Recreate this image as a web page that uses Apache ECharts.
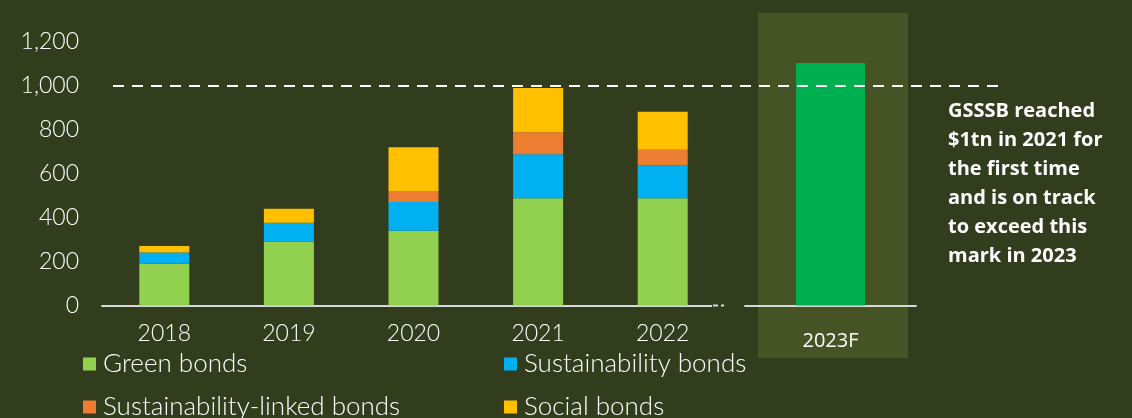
<!DOCTYPE html>
<html><head><meta charset="utf-8">
<script src="https://cdn.jsdelivr.net/npm/echarts@6/dist/echarts.min.js"></script>
<style>html,body{margin:0;padding:0;background:#323d1d;}#c{width:1132px;height:418px;}</style>
</head><body><div id="c"></div>
<script>
const categories = ['2018', '2019', '2020', '2021', '2022'];
const forecastCategories = ['2023F'];
const greenBonds = [190, 291, 340, 488, 488];
const sustainabilityBonds = [51, 86, 131, 201, 151];
const sustainabilityLinkedBonds = [0, 0, 50, 100, 70];
const socialBonds = [30, 64, 200, 201, 173];
const forecastTotal = [1104];
const yTicks = [0, 200, 400, 600, 800, 1000, 1200];
const thresholdValue = 1000;
const noteLines = ['GSSSB reached', '$1tn in 2021 for', 'the first time', 'and is on track', 'to exceed this', 'mark in 2023'];

const FONT = 'Lato';
const chart = echarts.init(document.getElementById('c'), null, {renderer: 'canvas'});
const axisCommon = {min: 0, max: 1200, interval: 200};
const legendText = {color: '#ffffff', fontFamily: FONT, fontSize: 26, fontWeight: 300, lineHeight: 24, padding: [0, 0, 0, 2]};
function legendItem(name, left, top) {
  return {left: left, top: top, padding: 0, orient: 'horizontal', itemWidth: 13, itemHeight: 13, icon: 'rect',
          data: [name], selectedMode: false, textStyle: legendText};
}
const option = {
  backgroundColor: '#323d1d',
  animation: false,
  grid: [
    {left: 102, right: 1132 - 725, top: 42, bottom: 112.5},
    {left: 745, right: 1132 - 916, top: 42, bottom: 112.5}
  ],
  xAxis: [
    {type: 'category', gridIndex: 0, data: categories,
     axisLine: {show: true, lineStyle: {color: '#d9d9d9', width: 2}},
     axisTick: {show: false},
     axisLabel: {color: '#ffffff', fontFamily: FONT, fontSize: 23, fontWeight: 300, margin: 17}},
    {type: 'category', gridIndex: 1, data: forecastCategories,
     axisLine: {show: true, lineStyle: {color: '#d9d9d9', width: 2}},
     axisTick: {show: false},
     axisLabel: {color: '#ffffff', fontFamily: 'Open Sans', fontSize: 20, margin: 26}}
  ],
  yAxis: [
    Object.assign({type: 'value', gridIndex: 0,
     axisLine: {show: false}, axisTick: {show: false}, splitLine: {show: false},
     axisLabel: {color: '#ffffff', fontFamily: FONT, fontSize: 23, fontWeight: 300, margin: 23,
       formatter: v => yTicks.includes(v) ? v.toLocaleString('en-US') : ''}}, axisCommon),
    Object.assign({type: 'value', gridIndex: 1, show: false, splitLine: {show: false}}, axisCommon)
  ],
  legend: [
    legendItem('Green bonds', 83, 351),
    legendItem('Sustainability bonds', 504, 351),
    legendItem('Sustainability-linked bonds', 83, 394),
    legendItem('Social bonds', 504, 394)
  ],
  series: [
    {name: 'Green bonds', type: 'bar', stack: 'a', xAxisIndex: 0, yAxisIndex: 0, data: greenBonds, barWidth: 50,
     itemStyle: {color: '#92d050'}},
    {name: 'Sustainability bonds', type: 'bar', stack: 'a', xAxisIndex: 0, yAxisIndex: 0, data: sustainabilityBonds, barWidth: 50,
     itemStyle: {color: '#00b0f0'}},
    {name: 'Sustainability-linked bonds', type: 'bar', stack: 'a', xAxisIndex: 0, yAxisIndex: 0, data: sustainabilityLinkedBonds, barWidth: 50,
     itemStyle: {color: '#ed7d31'}},
    {name: 'Social bonds', type: 'bar', stack: 'a', xAxisIndex: 0, yAxisIndex: 0, data: socialBonds, barWidth: 50,
     itemStyle: {color: '#ffc000'}},
    {name: '2023F', type: 'bar', xAxisIndex: 1, yAxisIndex: 1, data: forecastTotal, barWidth: 69,
     itemStyle: {color: '#00b050'}, z: 3}
  ]
};
chart.setOption(option);

const yPix = chart.convertToPixel({yAxisIndex: 0}, thresholdValue);
const zeroPix = chart.convertToPixel({yAxisIndex: 0}, 0);
chart.setOption({
  graphic: [
    {type: 'rect', z: -1, silent: true, shape: {x: 758, y: 13, width: 150, height: 345}, style: {fill: '#465325'}},
    {type: 'rect', z: 10, silent: true, shape: {x: 712, y: zeroPix - 2, width: 14, height: 4}, style: {fill: '#323d1d'}},
    {type: 'rect', z: 11, silent: true, shape: {x: 713, y: zeroPix - 1, width: 5, height: 2}, style: {fill: '#d9d9d9'}},
    {type: 'rect', z: 11, silent: true, shape: {x: 721, y: zeroPix - 1, width: 3, height: 2}, style: {fill: '#d9d9d9'}},
    {type: 'line', z: 20, silent: true, shape: {x1: 113, y1: yPix, x2: 1001, y2: yPix},
     style: {stroke: '#ffffff', lineWidth: 2, lineDash: [11, 8]}},
    {type: 'text', z: 20, silent: true, left: 948, top: 97,
     style: {text: noteLines.join('\n'), fill: '#ffffff', font: 'bold 20px "Open Sans"', lineHeight: 29}}
  ]
});
</script></body></html>
